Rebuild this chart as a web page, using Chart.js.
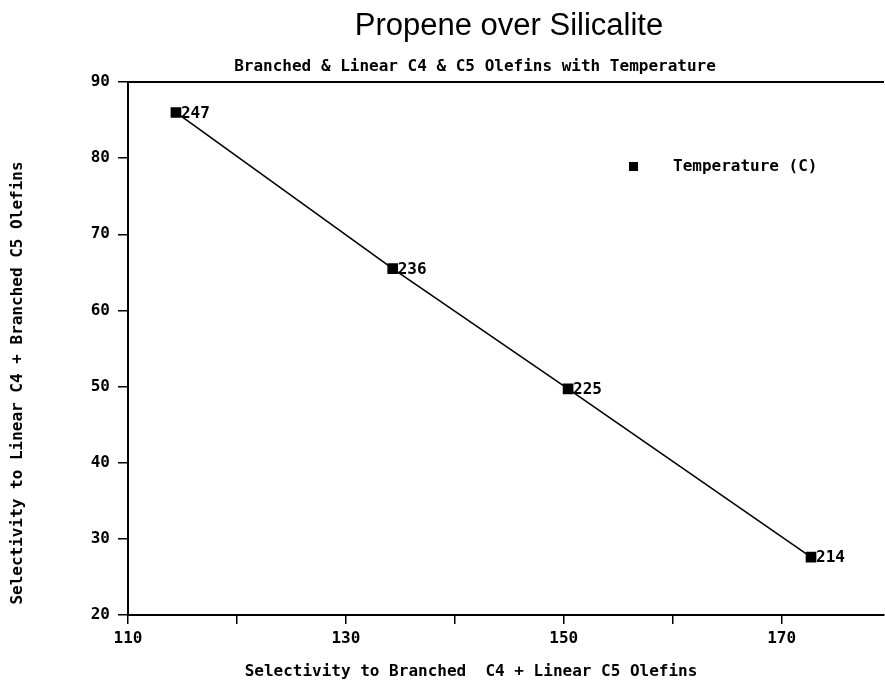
<!DOCTYPE html>
<html>
<head>
<meta charset="utf-8">
<script src="https://cdn.jsdelivr.net/npm/chart.js@4/dist/chart.umd.min.js"></script>
<style>
  html, body { margin: 0; padding: 0; background: #fff; overflow: hidden; }
  #wrap { width: 892px; height: 683px; position: relative; }
</style>
</head>
<body>
<div id="wrap"><canvas id="chart"></canvas></div>
<script>
// data
const branchedC4 = [114.4, 134.3, 150.4, 172.7];   // x
const linearC4 = [86.0, 65.5, 49.7, 27.6];         // y
const temps = ['247', '236', '225', '214'];
const xTicks = [110, 120, 130, 140, 150, 160, 170];
const xLabelled = [110, 130, 150, 170];

const monoBold = 'bold 16px "DejaVu Sans Mono", "Liberation Mono", monospace';

const points = branchedC4.map((x, i) => ({ x: x, y: linearC4[i] }));

// titles, legend, point labels and top frame line
const decor = {
    id: 'decor',
    afterDraw(chart) {
        const ctx = chart.ctx;
        const area = chart.chartArea;
        ctx.save();
        ctx.fillStyle = '#000';
        ctx.strokeStyle = '#000';

        // top frame
        ctx.lineWidth = 2;
        ctx.beginPath();
        ctx.moveTo(area.left, area.top);
        ctx.lineTo(area.right, area.top);
        ctx.stroke();

        ctx.textBaseline = 'middle';
        ctx.textAlign = 'center';
        ctx.font = '31px "Liberation Sans", Arial, sans-serif';
        ctx.fillText('Propene over Silicalite', 509, 26);

        ctx.font = monoBold;
        ctx.fillText('Branched & Linear C4 & C5 Olefins with Temperature', 475, 67);
        ctx.fillText('Selectivity to Branched  C4 + Linear C5 Olefins', 471, 672);

        ctx.save();
        ctx.translate(18, 383);
        ctx.rotate(-Math.PI / 2);
        ctx.fillText('Selectivity to Linear C4 + Branched C5 Olefins', 0, 0);
        ctx.restore();

        // legend
        ctx.fillRect(629, 162, 9, 9);
        ctx.textAlign = 'left';
        ctx.fillText('Temperature (C)', 673, 167);

        // temperature labels next to the markers
        const meta = chart.getDatasetMeta(0);
        meta.data.forEach((pt, i) => {
            ctx.fillText(temps[i], pt.x + 5, pt.y + 1);
        });
        ctx.restore();
    }
};

new Chart(document.getElementById('chart'), {
    type: 'scatter',
    data: {
        datasets: [{
            label: 'Temperature (C)',
            data: points,
            showLine: true,
            borderColor: '#000',
            borderWidth: 1.6,
            backgroundColor: '#000',
            pointStyle: 'rect',
            pointRadius: 6.4,
            pointHoverRadius: 6.4
        }]
    },
    options: {
        responsive: true,
        maintainAspectRatio: false,
        animation: false,
        layout: { padding: { top: 82, right: 1, left: 0, bottom: 0 } },
        plugins: {
            legend: { display: false },
            tooltip: { enabled: false }
        },
        scales: {
            x: {
                type: 'linear',
                min: 110,
                max: 179.4,
                afterBuildTicks: (scale) => {
                    scale.ticks = xTicks.map(v => ({ value: v }));
                },
                afterFit: (scale) => { scale.height = 68; },
                grid: {
                    drawOnChartArea: false,
                    drawTicks: true,
                    tickLength: 9,
                    color: '#000',
                    lineWidth: 1.5
                },
                border: { display: true, color: '#000', width: 2 },
                ticks: {
                    color: '#000',
                    font: { family: '"DejaVu Sans Mono", monospace', size: 16, weight: 'bold' },
                    padding: 5,
                    maxRotation: 0,
                    autoSkip: false,
                    callback: (v) => xLabelled.includes(v) ? String(v) : ''
                }
            },
            y: {
                min: 20,
                max: 90,
                afterFit: (scale) => { scale.width = 128; },
                grid: {
                    drawOnChartArea: false,
                    drawTicks: true,
                    tickLength: 10,
                    color: '#000',
                    lineWidth: 1.5
                },
                border: { display: true, color: '#000', width: 2 },
                ticks: {
                    stepSize: 10,
                    color: '#000',
                    font: { family: '"DejaVu Sans Mono", monospace', size: 16, weight: 'bold' },
                    padding: 8
                }
            }
        }
    },
    plugins: [decor]
});
</script>
</body>
</html>
